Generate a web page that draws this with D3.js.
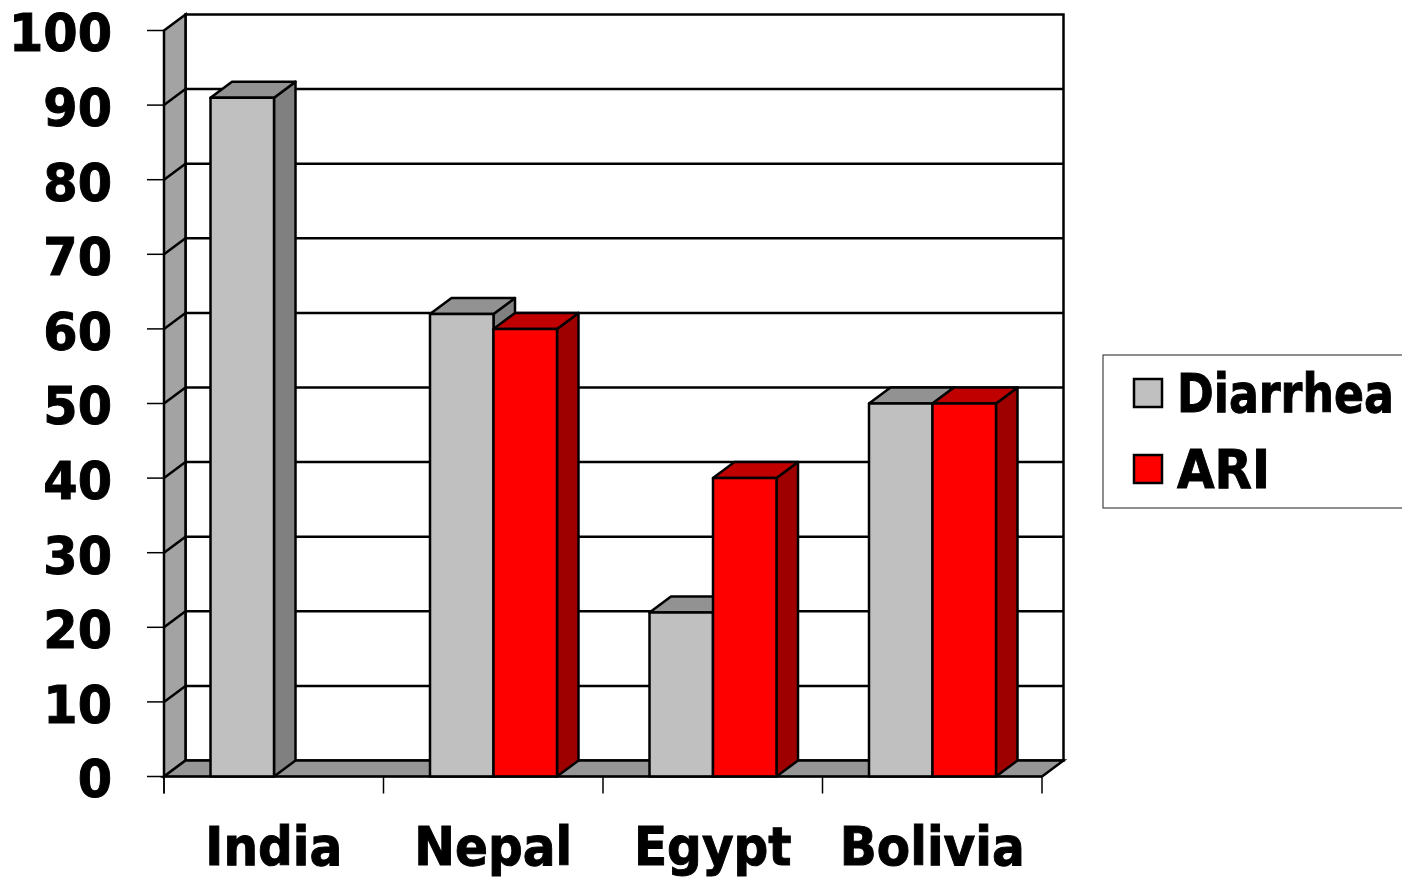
<!DOCTYPE html>
<html>
<head>
<meta charset="utf-8">
<script src="https://cdn.jsdelivr.net/npm/d3@7"></script>
<style>
  html, body { margin: 0; padding: 0; background: #ffffff; }
  svg { display: block; }
  text { font-family: "DejaVu Sans", Verdana, sans-serif; font-weight: bold; fill: #000; stroke: #000; stroke-width: 1; }
</style>
</head>
<body>
<svg id="chart" width="1402" height="877"></svg>
<script>
// Data
const categories = ["India", "Nepal", "Egypt", "Bolivia"];
const seriesNames = ["Diarrhea", "ARI"];
const diarrheaValues = [91, 62, 22, 50];
const ariValues = [null, 60, 40, 50];
const yTicks = [0, 10, 20, 30, 40, 50, 60, 70, 80, 90, 100];

// Face colours per series: front, top, side
const palette = {
  Diarrhea: { front: "#c0c0c0", top: "#929292", side: "#808080" },
  ARI:      { front: "#ff0000", top: "#c00000", side: "#9e0000" }
};

const svg = d3.select("#chart");

// Oblique depth offset of the 3-D box
const depthX = 21.5, depthY = -16;
const lineW = 2.5;

const plotLeft = 164, plotRight = 1042;
const y = d3.scaleLinear().domain([0, 100]).range([776.5, 30.5]);
const x0 = d3.scaleBand().domain(categories).range([plotLeft, plotRight]).padding(0);
const x1 = d3.scaleBand().domain(seriesNames).range([46.5, x0.bandwidth() - 46]).padding(0);

const rows = categories.map((c, i) => ({
  category: c,
  values: [
    { series: "Diarrhea", value: diarrheaValues[i] },
    { series: "ARI", value: ariValues[i] }
  ]
}));

const pt = (px, py) => px + "," + py;
const y0 = y(0), yTop = y(100);

// Back wall
svg.append("polygon")
  .attr("points", [pt(plotLeft + depthX, yTop + depthY), pt(plotRight + depthX, yTop + depthY),
                   pt(plotRight + depthX, y0 + depthY), pt(plotLeft + depthX, y0 + depthY)].join(" "))
  .attr("fill", "#ffffff").attr("stroke", "#000").attr("stroke-width", lineW);

// Left side wall
svg.append("polygon")
  .attr("points", [pt(plotLeft, yTop), pt(plotLeft + depthX, yTop + depthY),
                   pt(plotLeft + depthX, y0 + depthY), pt(plotLeft, y0)].join(" "))
  .attr("fill", "#a3a3a3").attr("stroke", "#000").attr("stroke-width", lineW);

// Floor
svg.append("polygon")
  .attr("points", [pt(plotLeft, y0), pt(plotLeft + depthX, y0 + depthY),
                   pt(plotRight + depthX, y0 + depthY), pt(plotRight, y0)].join(" "))
  .attr("fill", "#969696").attr("stroke", "#000").attr("stroke-width", lineW);

// Gridlines along the back wall and the side wall
const grid = svg.append("g").attr("stroke", "#000").attr("stroke-width", lineW).attr("fill", "none");
yTicks.filter(t => t > 0 && t < 100).forEach(t => {
  grid.append("line")
    .attr("x1", plotLeft + depthX).attr("x2", plotRight + depthX)
    .attr("y1", y(t) + depthY).attr("y2", y(t) + depthY);
  grid.append("line")
    .attr("x1", plotLeft).attr("x2", plotLeft + depthX)
    .attr("y1", y(t)).attr("y2", y(t) + depthY);
});

// Bars: side, top and front faces
const bars = svg.append("g").attr("stroke", "#000").attr("stroke-width", lineW).attr("stroke-linejoin", "round");
rows.forEach(row => {
  row.values.forEach(d => {
    if (d.value == null) return;
    const c = palette[d.series];
    const xl = x0(row.category) + x1(d.series);
    const xr = xl + x1.bandwidth();
    const yt = y(d.value);
    bars.append("polygon")
      .attr("points", [pt(xr, yt), pt(xr + depthX, yt + depthY), pt(xr + depthX, y0 + depthY), pt(xr, y0)].join(" "))
      .attr("fill", c.side);
    bars.append("polygon")
      .attr("points", [pt(xl, yt), pt(xl + depthX, yt + depthY), pt(xr + depthX, yt + depthY), pt(xr, yt)].join(" "))
      .attr("fill", c.top);
    bars.append("rect")
      .attr("x", xl).attr("y", yt).attr("width", xr - xl).attr("height", y0 - yt)
      .attr("fill", c.front);
  });
});

// Value axis
const yAxis = svg.append("g").attr("stroke", "#000").attr("stroke-width", 1.5);
yAxis.append("line").attr("x1", plotLeft).attr("x2", plotLeft).attr("y1", yTop).attr("y2", y0 + 17);
yTicks.forEach(t => {
  yAxis.append("line").attr("x1", plotLeft - 17).attr("x2", plotLeft).attr("y1", y(t)).attr("y2", y(t));
});
svg.append("g").selectAll("text").data(yTicks).join("text")
  .attr("transform", t => `translate(112,${y(t) + 3}) scale(0.95,1)`)
  .attr("text-anchor", "end")
  .attr("dominant-baseline", "central")
  .attr("font-size", 52)
  .text(t => t);

// Category axis
const xAxis = svg.append("g").attr("stroke", "#000").attr("stroke-width", 1.5);
xAxis.append("line").attr("x1", plotLeft).attr("x2", plotRight).attr("y1", y0).attr("y2", y0);
categories.concat([null]).forEach((c, i) => {
  const xx = c ? x0(c) : plotRight;
  xAxis.append("line").attr("x1", xx).attr("x2", xx).attr("y1", y0).attr("y2", y0 + 17);
});
svg.append("g").selectAll("text").data(categories).join("text")
  .attr("transform", c => `translate(${x0(c) + x0.bandwidth() / 2},865) scale(0.9,1)`)
  .attr("text-anchor", "middle")
  .attr("font-size", 54)
  .text(c => c);

// Legend
const legend = svg.append("g");
legend.append("rect")
  .attr("x", 1103).attr("y", 355).attr("width", 320).attr("height", 153)
  .attr("fill", "#ffffff").attr("stroke", "#444").attr("stroke-width", 1.2);
seriesNames.forEach((s, i) => {
  const gy = 379 + i * 76;
  legend.append("rect")
    .attr("x", 1134).attr("y", gy).attr("width", 28).attr("height", 28)
    .attr("fill", palette[s].front).attr("stroke", "#000").attr("stroke-width", 2.5);
  legend.append("text")
    .attr("transform", `translate(1177,${gy + 33}) scale(${i === 0 ? 0.82 : 0.9},1)`)
    .attr("font-size", 54)
    .text(s);
});
</script>
</body>
</html>
